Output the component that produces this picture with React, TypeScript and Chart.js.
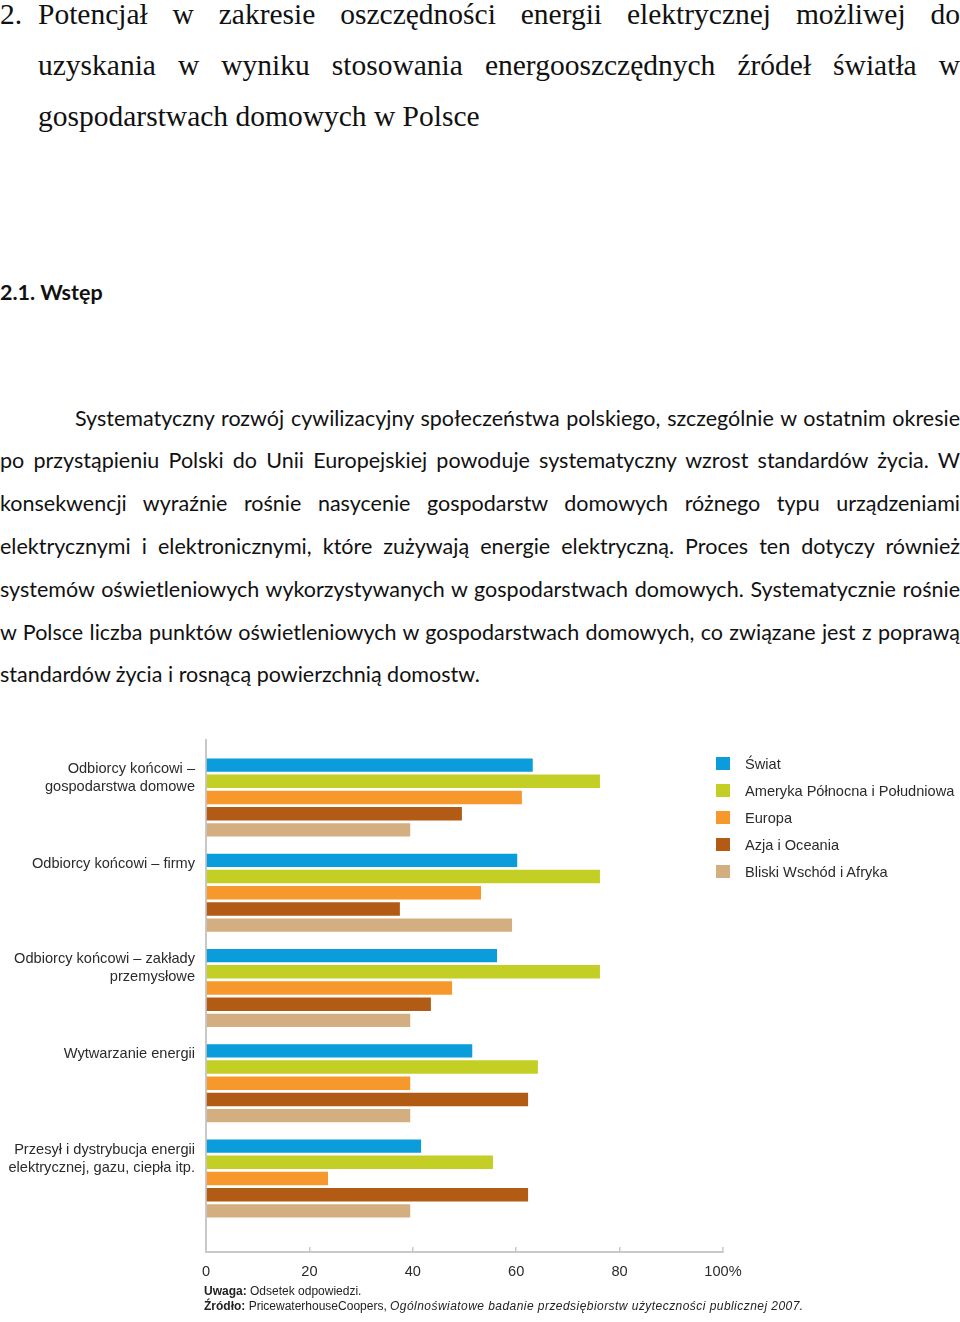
import React, { useEffect, useRef } from "react";
import { Chart, registerables } from "chart.js";

Chart.register(...registerables);

const categories: string[][] = [
  ["Odbiorcy końcowi –", "gospodarstwa domowe"],
  ["Odbiorcy końcowi – firmy", ""],
  ["Odbiorcy końcowi – zakłady", "przemysłowe"],
  ["Wytwarzanie energii", ""],
  ["Przesył i dystrybucja energii", "elektrycznej, gazu, ciepła itp."],
];

const seriesNames = [
  "Świat",
  "Ameryka Północna i Południowa",
  "Europa",
  "Azja i Oceania",
  "Bliski Wschód i Afryka",
];
const seriesColors = ["#0a9cdb", "#c3cf25", "#f6982c", "#b15b15", "#d3ae80"];

const swiat = [63.2, 60.2, 56.3, 51.5, 41.6];
const ameryka = [76.2, 76.2, 76.2, 64.2, 55.5];
const europa = [61.1, 53.2, 47.6, 39.5, 23.6];
const azja = [49.5, 37.5, 43.5, 62.3, 62.3];
const bliski = [39.5, 59.2, 39.5, 39.5, 39.5];

const xTicks = [0, 20, 40, 60, 80, 100];
const xTickLabels = ["0", "20", "40", "60", "80", "100%"];

const titleLines = [
  "Potencjał w zakresie oszczędności energii elektrycznej możliwej do",
  "uzyskania w wyniku stosowania energooszczędnych źródeł światła w",
  "gospodarstwach domowych w Polsce",
];
const sectionTitle = "2.1. Wstęp";
const paragraphLines = [
  "Systematyczny rozwój cywilizacyjny społeczeństwa polskiego, szczególnie w ostatnim okresie",
  "po przystąpieniu Polski do Unii Europejskiej powoduje systematyczny wzrost standardów życia. W",
  "konsekwencji wyraźnie rośnie nasycenie gospodarstw domowych różnego typu urządzeniami",
  "elektrycznymi i elektronicznymi, które zużywają energie elektryczną. Proces ten dotyczy również",
  "systemów oświetleniowych wykorzystywanych w gospodarstwach domowych. Systematycznie rośnie",
  "w Polsce liczba punktów oświetleniowych w gospodarstwach domowych, co związane jest z poprawą",
  "standardów życia i rosnącą powierzchnią domostw.",
];

const FONT = "'Liberation Sans', Arial, sans-serif";

function ChartBox() {
  const ref = useRef<HTMLCanvasElement | null>(null);
  useEffect(() => {
    if (!ref.current) return;
    const all = [swiat, ameryka, europa, azja, bliski];
    const chart = new Chart(ref.current, {
      type: "bar",
      data: {
        datasets: all.map((arr, si) => ({
          label: seriesNames[si],
          data: arr.map((v, i) => ({ x: v, y: i })),
          backgroundColor: seriesColors[si],
          borderWidth: 0,
          categoryPercentage: 0.85,
          barPercentage: 0.83,
        })),
      },
      options: {
        indexAxis: "y",
        animation: false,
        responsive: false,
        maintainAspectRatio: false,
        layout: { padding: { left: 0, right: 237, top: 10, bottom: 8 } },
        plugins: { legend: { display: false }, tooltip: { enabled: false } },
        scales: {
          y: {
            type: "linear",
            reverse: true,
            offset: false,
            min: -0.604,
            max: 4.772,
            afterBuildTicks: (s: any) => {
              s.ticks = categories.map((_, i) => ({ value: i }));
            },
            afterFit: (s: any) => {
              s.width = 206;
              s.paddingTop = 0;
              s.paddingBottom = 0;
            },
            ticks: {
              autoSkip: false,
              callback: (v: any) => categories[Number(v)] ?? "",
              labelOffset: -20,
              padding: 11,
              color: "#2b2b2b",
              font: { family: FONT, size: 14.6, lineHeight: 18 / 14.6 },
            },
            grid: { display: false, drawTicks: false },
            border: { display: true, color: "#c9c9c9", width: 2 },
          },
          x: {
            type: "linear",
            min: 0,
            max: 100,
            offset: false,
            afterBuildTicks: (s: any) => {
              s.ticks = xTicks.map((v) => ({ value: v }));
            },
            afterFit: (s: any) => {
              s.height = 30;
              s.paddingLeft = 0;
              s.paddingRight = 0;
            },
            ticks: {
              autoSkip: false,
              maxRotation: 0,
              callback: (v: any) => xTickLabels[xTicks.indexOf(Number(v))],
              padding: 16,
              color: "#2b2b2b",
              font: { family: FONT, size: 14.6 },
            },
            grid: {
              display: true,
              drawOnChartArea: false,
              drawTicks: true,
              tickLength: -5,
              color: "#c9c9c9",
              lineWidth: 1.5,
            },
            border: { display: true, color: "#c9c9c9", width: 2 },
          },
        },
      },
    });
    return () => chart.destroy();
  }, []);
  return (
    <canvas
      ref={ref}
      width={960}
      height={560}
      style={{ position: "absolute", left: 0, top: 730, width: 960, height: 560 }}
    />
  );
}

export default function App() {
  const justify: React.CSSProperties = {
    textAlign: "justify",
    textAlignLast: "justify" as any,
  };
  return (
    <div
      style={{
        position: "absolute",
        left: 0,
        top: 0,
        width: 960,
        height: 1322,
        background: "#fff",
        overflow: "hidden",
        color: "#111",
      }}
    >
      {/* Title */}
      <div
        style={{
          position: "absolute",
          left: 0,
          top: -11.5,
          width: 960,
          fontFamily: "'Liberation Serif', 'Times New Roman', serif",
          fontSize: 29.5,
          lineHeight: "51px",
        }}
      >
        <div style={{ position: "absolute", left: 0, top: 0 }}>2.</div>
        {titleLines.map((t, i) => (
          <div
            key={i}
            style={{
              position: "absolute",
              left: 38,
              top: i * 51,
              width: 922,
              height: 51,
              ...(i < titleLines.length - 1 ? justify : { textAlign: "left" }),
            }}
          >
            {t}
          </div>
        ))}
      </div>

      {/* Section */}
      <div
        style={{
          position: "absolute",
          left: 0,
          top: 278,
          fontFamily: "Lato, 'Open Sans', sans-serif",
          fontWeight: 700,
          fontSize: 21.5,
          lineHeight: "28px",
        }}
      >
        {sectionTitle}
      </div>

      {/* Paragraph */}
      <div
        style={{
          position: "absolute",
          left: 0,
          top: 396.6,
          width: 960,
          fontFamily: "Lato, 'Open Sans', sans-serif",
          fontSize: 21.5,
          lineHeight: "42.8px",
        }}
      >
        {paragraphLines.map((t, i) => (
          <div
            key={i}
            style={{
              paddingLeft: i === 0 ? 75 : 0,
              height: 42.8,
              ...(i < paragraphLines.length - 1 ? justify : { textAlign: "left" }),
            }}
          >
            {t}
          </div>
        ))}
      </div>

      <ChartBox />

      {/* Legend */}
      {seriesNames.map((n, i) => (
        <React.Fragment key={n}>
          <div
            style={{
              position: "absolute",
              left: 716,
              top: 757 + i * 27,
              width: 14,
              height: 13,
              background: seriesColors[i],
            }}
          />
          <div
            style={{
              position: "absolute",
              left: 745,
              top: 754.5 + i * 27,
              fontFamily: FONT,
              fontSize: 14.6,
              lineHeight: "18px",
              color: "#2b2b2b",
              whiteSpace: "nowrap",
            }}
          >
            {n}
          </div>
        </React.Fragment>
      ))}

      {/* Notes */}
      <div
        style={{
          position: "absolute",
          left: 204,
          top: 1283.5,
          fontFamily: FONT,
          fontSize: 12,
          lineHeight: "15px",
          color: "#222",
          whiteSpace: "nowrap",
        }}
      >
        <div>
          <b>Uwaga:</b> Odsetek odpowiedzi.
        </div>
        <div>
          <b>Źródło:</b> PricewaterhouseCoopers,{" "}
          <i style={{ letterSpacing: "0.45px" }}>
            Ogólnoświatowe badanie przedsiębiorstw użyteczności publicznej 2007.
          </i>
        </div>
      </div>
    </div>
  );
}
